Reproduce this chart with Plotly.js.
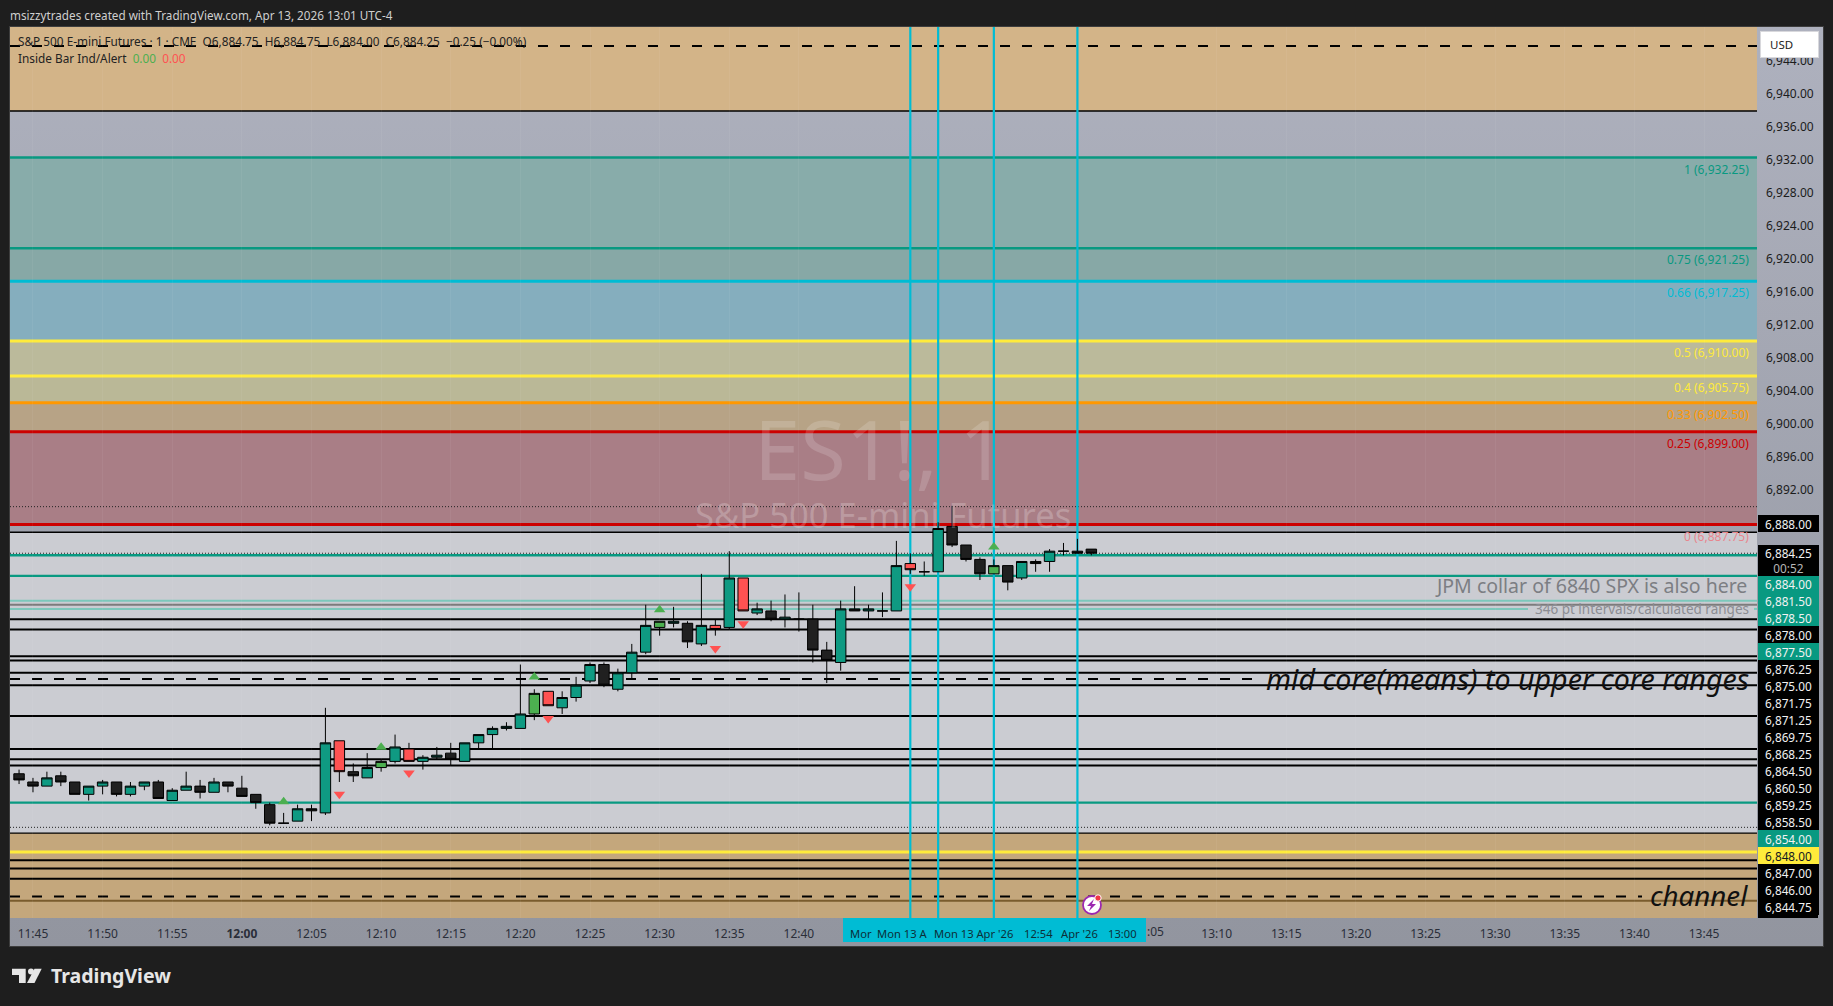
<!DOCTYPE html>
<html>
<head>
<meta charset="utf-8">
<script src="https://cdn.plot.ly/plotly-3.0.1.min.js"></script>
<style>
  html, body { margin: 0; padding: 0; background: #1e1e1e; }
  #frame {
    position: absolute; left: 9px; top: 26px; width: 1813px; height: 919px;
    border: 1px solid #3d3d3d;
    background: linear-gradient(#aeb1be, #92959f);
  }
  #plot { position: absolute; left: 0; top: 0; width: 1833px; height: 1006px; }
</style>
</head>
<body>
<div id="frame"></div>
<div id="plot"></div>
<script>
// candles
var candleTimes = [
  "11:44", "11:45", "11:46", "11:47", "11:48", "11:49", "11:50", "11:51", "11:52", "11:53",
  "11:54", "11:55", "11:56", "11:57", "11:58", "11:59", "12:00", "12:01", "12:02", "12:03",
  "12:04", "12:05", "12:06", "12:07", "12:08", "12:09", "12:10", "12:11", "12:12", "12:13",
  "12:14", "12:15", "12:16", "12:17", "12:18", "12:19", "12:20", "12:21", "12:22", "12:23",
  "12:24", "12:25", "12:26", "12:27", "12:28", "12:29", "12:30", "12:31", "12:32", "12:33",
  "12:34", "12:35", "12:36", "12:37", "12:38", "12:39", "12:40", "12:41", "12:42", "12:43",
  "12:44", "12:45", "12:46", "12:47", "12:48", "12:49", "12:50", "12:51", "12:52", "12:53",
  "12:54", "12:55", "12:56", "12:57", "12:58", "12:59", "13:00", "13:01"
];
var candleOpen = [
  6857.5, 6856.5, 6856, 6857.25, 6856.5, 6855, 6856, 6856.5, 6855, 6856,
  6856.5, 6854.25, 6855.5, 6856, 6855.25, 6856.5, 6855.75, 6855, 6853.75, 6851.5,
  6851.75, 6853.25, 6852.75, 6861.5, 6857.75, 6857, 6858.25, 6859, 6860.5, 6859,
  6859.5, 6860, 6859, 6861.25, 6862.25, 6863, 6863, 6864.75, 6867.5, 6865.5,
  6866.75, 6868.75, 6870.75, 6867.75, 6869.75, 6872.25, 6875.25, 6875.75, 6875.75, 6873.25,
  6875.5, 6875.25, 6881.25, 6877, 6877.25, 6876.25, 6876.25, 6876.25, 6872.5, 6871,
  6877.5, 6877.25, 6877.25, 6877.25, 6883, 6882, 6882, 6887.5, 6885.25, 6883.5,
  6881.75, 6882.75, 6881.25, 6883.25, 6883.25, 6884.5, 6884.5, 6884.75
];
var candleHigh = [
  6858, 6857, 6857.75, 6857.75, 6856.5, 6856, 6856.75, 6856.5, 6856.5, 6856.5,
  6856.75, 6855.75, 6857.75, 6856.75, 6857, 6856.5, 6857.25, 6855, 6854, 6852.75,
  6853.75, 6853.75, 6865.5, 6861.5, 6858.75, 6860, 6859.25, 6862.25, 6861.25, 6859.75,
  6860.75, 6861.25, 6861.25, 6862.25, 6863.25, 6863.75, 6870.75, 6867.75, 6867.5, 6867.5,
  6869.25, 6871, 6871, 6870.25, 6873.25, 6878, 6876, 6877.75, 6876, 6881.75,
  6876.25, 6884.5, 6881.25, 6878.25, 6878.5, 6879.25, 6879.5, 6878, 6873.5, 6878.5,
  6880.25, 6878, 6879.5, 6885.75, 6884.25, 6883.25, 6888, 6890, 6885.25, 6883.75,
  6883.5, 6882.75, 6883.25, 6883.5, 6884.75, 6885.5, 6886, 6884.75
];
var candleLow = [
  6856.25, 6855.25, 6856, 6856, 6855, 6854.25, 6855, 6854.75, 6854.75, 6855.5,
  6854.5, 6854.25, 6855.5, 6854.5, 6855.25, 6855.25, 6854.75, 6853.25, 6851.25, 6851.5,
  6851.75, 6851.75, 6852.5, 6856.5, 6856.5, 6857, 6857.75, 6858.75, 6859, 6858,
  6859.25, 6858.5, 6859, 6860.5, 6860.5, 6862.75, 6863, 6864, 6865.75, 6864.75,
  6866.25, 6868.5, 6868, 6867.5, 6869, 6872, 6874.25, 6875.25, 6872.75, 6873,
  6874.25, 6875, 6877.25, 6876.75, 6876, 6875.25, 6874.75, 6871, 6868.5, 6870,
  6877.25, 6876.25, 6876.5, 6877.25, 6881.75, 6881.5, 6882, 6885, 6883.25, 6881,
  6881.75, 6879.75, 6881, 6882, 6882, 6884, 6884.25, 6884
];
var candleClose = [
  6856.75, 6856, 6857, 6856.5, 6855, 6856, 6856.5, 6855, 6856, 6856.5,
  6854.5, 6855.5, 6856, 6855.25, 6856.5, 6856, 6854.75, 6854, 6851.5, 6851.5,
  6853.25, 6853, 6861.25, 6857.75, 6857.25, 6858.25, 6859, 6860.75, 6859, 6859.5,
  6859.75, 6859.25, 6861.25, 6862.25, 6863, 6863.25, 6864.75, 6867.25, 6865.75, 6866.75,
  6868.25, 6870.75, 6868.25, 6869.75, 6872.25, 6875.5, 6876, 6876, 6873.5, 6875.5,
  6875, 6881.25, 6877.25, 6877.5, 6876.25, 6876.5, 6876.25, 6872.5, 6871.25, 6877.5,
  6877.25, 6877.5, 6877.25, 6882.75, 6882.25, 6882, 6887.25, 6885.25, 6883.5, 6881.75,
  6882.75, 6880.75, 6883.25, 6883, 6884.5, 6884.5, 6884.25, 6884.25
];
// T teal, B black, R red inside bar, G green inside bar
var candleKind = [
  "B", "B", "T", "B", "B", "T", "T", "B", "T", "T",
  "B", "T", "T", "B", "T", "B", "B", "B", "B", "B",
  "T", "B", "T", "R", "B", "T", "G", "T", "R", "T",
  "T", "B", "T", "T", "T", "T", "T", "G", "R", "T",
  "T", "T", "B", "T", "T", "T", "G", "T", "B", "T",
  "R", "T", "R", "T", "B", "T", "B", "B", "B", "T",
  "B", "T", "B", "T", "R", "B", "T", "B", "B", "B",
  "G", "B", "T", "B", "T", "B", "B", "B"
];
var KIND_COLORS = { T: "#0f9a82", B: "#202020", R: "#ff5252", G: "#4caf50" };

// inside bar markers
var upTimes = ["12:03", "12:10", "12:21", "12:30", "12:54"];
var upPrices = [6854.1, 6860.7, 6869.25, 6877.4, 6885];
var downTimes = ["12:07", "12:12", "12:22", "12:34", "12:36", "12:48"];
var downPrices = [6855, 6857.6, 6864.2, 6872.7, 6875.7, 6880.2];

// price axis
var priceTicks = [6892, 6896, 6900, 6904, 6908, 6912, 6916, 6920, 6924, 6928, 6932, 6936, 6940, 6944];
var PRICE_TOP = 6948.09;
var PRICE_BOTTOM = 6840;

// time axis, the ticks under the cyan bar are left out
var timeTicks = [
  "11:45", "11:50", "11:55", "12:00", "12:05", "12:10", "12:15", "12:20", "12:25", "12:30",
  "12:35", "12:40", "13:10", "13:15", "13:20", "13:25", "13:30", "13:35", "13:40", "13:45"
];
var TIME_START = "11:43:21";
var TIME_END = "13:48:48";

// background zones
var zoneTops = [6948.09, 6932.25, 6921.25, 6917.25, 6910, 6905.75, 6902.5, 6899, 6886.8, 6850.3];
var zoneBottoms = [6937.9, 6921.25, 6917.25, 6910, 6905.75, 6902.5, 6899, 6887.75, 6850.3, 6840];
var zoneColors = ["#d3b488", "#88acaa", "#87a8a6", "#85aebe", "#bbba9b", "#bab897", "#b7a386", "#a97e86", "#cbccd2", "#c4a77c"];

// horizontal levels
var blackLevels = [6876.25, 6875, 6871.75, 6871.25, 6869.75, 6868.25, 6864.5, 6860.5, 6847, 6846, 6844.75, 6859.25, 6858.5];
var thinBlackLevels = [6937.9, 6886.8, 6850.3];
var dottedLevels = [6889.9, 6884.25, 6851];
var dashedLevels = [6945.8, 6869, 6842.6];
var dashedEndPx = [1757, 1262, 1642];
var tealLevels = [6932.25, 6921.25, 6884, 6881.5, 6854];
var paleTealLevels = [6878.5];
var paleTealBroken = 6877.5;
var greyLevel = 6878;
var brownLevel = 6842.1;
var fibLevels = [6917.25, 6910, 6905.75, 6902.5, 6899, 6887.75, 6848];
var fibColors = ["#00bcd4", "#ffeb3b", "#ffeb3b", "#ff9800", "#cc0000", "#cc0000", "#ffeb3b"];

// vertical lines
var cursorTimes = ["12:48", "12:50", "12:54", "13:00"];

// fib labels
var fibLabelPrices = [6932.25, 6921.25, 6917.25, 6910, 6905.75, 6902.5, 6899, 6887.75];
var fibLabelRatios = ["1", "0.75", "0.66", "0.5", "0.4", "0.33", "0.25", "0"];
var fibLabelColors = ["#089981", "#089981", "#00bcd4", "#ffeb3b", "#ffeb3b", "#ff9800", "#cc0000", "#e8868e"];

// stacked price labels on the axis, bottom to top
var stackPrices = [6844.75, 6846, 6847, 6848, 6854, 6858.5, 6859.25, 6860.5, 6864.5, 6868.25, 6869.75, 6871.25, 6871.75, 6875, 6876.25, 6877.5, 6878, 6878.5, 6881.5, 6884];
var stackColors = ["#000", "#000", "#000", "#ffeb3b", "#089981", "#000", "#000", "#000", "#000", "#000", "#000", "#000", "#000", "#000", "#000", "#089981", "#000", "#089981", "#089981", "#089981"];

// crosshair texts in the cyan time bar
var barLabels = ["Mor", "Mon 13 A", "Mon 13 Apr '26", "12:54", "Apr '26", "13:00"];
var barLabelX = [861, 902, 974, 1038, 1079, 1122];

var FONT = "'Noto Sans', 'Open Sans', sans-serif";
var PLOT_L = 10, PLOT_R = 1757, PLOT_T = 27, PLOT_B = 918;

function xp(px) { return (px - PLOT_L) / (PLOT_R - PLOT_L); }
function yp(py) { return 1 - (py - PLOT_T) / (PLOT_B - PLOT_T); }
function tm(t) { return "2026-04-13 " + t; }
function money(v) { return v.toLocaleString("en-US", { minimumFractionDigits: 2, maximumFractionDigits: 2 }); }

function hLine(price, color, width, dash) {
  return {
    type: "line", layer: "below", xref: "paper", yref: "y",
    x0: 0, x1: 1, y0: price, y1: price,
    line: { color: color, width: width, dash: dash || "solid" }
  };
}

function pxRect(x0, y0, x1, y1, color, layer) {
  return {
    type: "rect", layer: layer || "above", xref: "paper", yref: "paper",
    x0: xp(x0), x1: xp(x1), y0: yp(y0), y1: yp(y1),
    fillcolor: color, line: { width: 0 }
  };
}

function pxCircle(cx, cy, r, fill, stroke, strokeWidth) {
  var s = pxRect(cx - r, cy - r, cx + r, cy + r, fill);
  s.type = "circle";
  s.line = { color: stroke || fill, width: strokeWidth || 0 };
  return s;
}

function pxPath(points, color) {
  var d = points.map(function (p, i) {
    return (i ? "L" : "M") + xp(p[0]) + " " + yp(p[1]);
  }).join(" ") + " Z";
  return {
    type: "path", layer: "above", xref: "paper", yref: "paper", path: d,
    fillcolor: color, line: { width: 0 }
  };
}

function makeShapes() {
  var shapes = [];
  zoneTops.forEach(function (top, i) {
    shapes.push({
      type: "rect", layer: "below", xref: "paper", yref: "y",
      x0: 0, x1: 1, y0: zoneBottoms[i], y1: top,
      fillcolor: zoneColors[i], line: { width: 0 }
    });
  });
  blackLevels.forEach(function (p) { shapes.push(hLine(p, "#000", 2)); });
  thinBlackLevels.forEach(function (p) { shapes.push(hLine(p, "#000", 1.4)); });
  tealLevels.forEach(function (p) { shapes.push(hLine(p, "#089981", 2.4)); });
  paleTealLevels.forEach(function (p) { shapes.push(hLine(p, "#7cc8bb", 2)); });
  // this one is broken by the text sitting on it
  var left = hLine(paleTealBroken, "#7cc8bb", 2);
  left.x1 = xp(1528);
  var right = hLine(paleTealBroken, "#7cc8bb", 2);
  right.x0 = xp(1754);
  shapes.push(left, right);
  shapes.push(hLine(greyLevel, "#7c7c7c", 2));
  shapes.push(hLine(brownLevel, "#7a5c2e", 2));
  fibLevels.forEach(function (p, i) { shapes.push(hLine(p, fibColors[i], 3)); });
  dottedLevels.forEach(function (p) { shapes.push(hLine(p, "#222", 1, "1px,2px")); });
  dashedLevels.forEach(function (p, i) {
    var dashed = hLine(p, "#000", 2, "10px,12px");
    dashed.x1 = xp(dashedEndPx[i]);
    shapes.push(dashed);
  });
  cursorTimes.forEach(function (t) {
    shapes.push({
      type: "line", layer: "below", xref: "x", yref: "paper",
      x0: tm(t), x1: tm(t), y0: 0, y1: 1,
      line: { color: "#00bcd4", width: 2.2 }
    });
  });

  // cyan time bar, black foot of the label stack
  shapes.push(pxRect(843, 918, 1146, 942, "#00bcd4"));
  shapes.push(pxRect(1758, 895, 1818, 918, "#000"));

  // lightning badge
  shapes.push(pxCircle(1092, 905, 9, "#ffffff", "#9c27b0", 1.8));
  shapes.push(pxPath([[1094, 899], [1087, 906], [1091, 906], [1089, 911], [1096, 904], [1092, 904]], "#9c27b0"));
  shapes.push(pxCircle(1098, 898, 3.2, "#f23645", "#ffffff", 1));

  // TradingView mark
  shapes.push(pxPath([[12, 968.7], [25.7, 968.7], [25.7, 983], [19, 983], [19, 975], [12, 975]], "#e6e6e6"));
  shapes.push(pxCircle(31, 971.5, 3, "#e6e6e6"));
  shapes.push(pxPath([[34.5, 968.7], [41.7, 968.7], [34.5, 983], [27, 983]], "#e6e6e6"));
  return shapes;
}

function txt(px, py, text, color, size, anchor, extra) {
  var a = {
    xref: "paper", yref: "paper", x: xp(px), y: yp(py),
    xanchor: anchor || "left", yanchor: "middle",
    text: text, showarrow: false, align: anchor || "left",
    font: { family: FONT, size: size, color: color }
  };
  Object.keys(extra || {}).forEach(function (k) { a[k] = extra[k]; });
  return a;
}

function axisBox(py, text, bg, color, h) {
  return txt(1788.5, py, text, color, 11.8, "center", {
    bgcolor: bg, width: 61, height: h || 17, borderpad: 0, borderwidth: 0
  });
}

function makeAnnotations() {
  var notes = [];

  // header and legend
  notes.push(txt(8, 15, "msizzytrades created with TradingView.com, Apr 13, 2026 13:01 UTC-4", "#cfcfcf", 11.7));
  notes.push(txt(15.5, 41, "S&P 500 E-mini Futures · 1 · CME  O6,884.75  H6,884.75  L6,884.00  C6,884.25  −0.25 (−0.00%)", "#222", 11.8));
  notes.push(txt(15.5, 58, "Inside Bar Ind/Alert  <span style='color:#4caf50'>0.00</span>  <span style='color:#ff5252'>0.00</span>", "#222", 11.8));

  // watermark
  notes.push(txt(880, 447, "ES1!, 1", "rgba(255,255,255,0.16)", 83, "center"));
  notes.push(txt(883, 514, "S&amp;P 500 E-mini Futures", "rgba(255,255,255,0.22)", 34.6, "center"));

  // fib labels hang under their level
  fibLabelPrices.forEach(function (p, i) {
    notes.push({
      xref: "paper", yref: "y", x: xp(1751), y: p, yshift: -11.7,
      xanchor: "right", yanchor: "middle", showarrow: false,
      text: fibLabelRatios[i] + " (" + money(p) + ")",
      font: { family: FONT, size: 12, color: fibLabelColors[i] }
    });
  });

  // drawn texts
  notes.push(txt(1749, 585, "JPM collar of 6840 SPX is also here", "#7c7e83", 19.5, "right"));
  notes.push(txt(1751, 609, "346 pt intervals/calculated ranges", "#8b8d93", 13.5, "right"));
  notes.push(txt(1751, 678, "<i>mid core(means) to upper core ranges</i>", "#111", 28.6, "right"));
  notes.push(txt(1750, 895, "<i>channel</i>", "#111", 27.7, "right"));

  // price labels stacked up from the foot of the axis
  stackPrices.forEach(function (p, i) {
    var bg = stackColors[i];
    notes.push(axisBox(906.7 - 17 * i, money(p), bg, bg === "#ffeb3b" ? "#131722" : "#f2f2f2"));
  });
  notes.push(axisBox(523, money(6888), "#000", "#f2f2f2"));
  notes.push(axisBox(560.3, money(6884.25) + "<br><span style='color:#b8b8b8'>00:52</span>", "#000", "#f2f2f2", 31));

  notes.push(txt(1789.5, 44, "&nbsp;&nbsp;&nbsp;USD", "#222", 11.5, "center", {
    bgcolor: "#ffffff", bordercolor: "#d8d8dc", borderwidth: 1, borderpad: 0, width: 57, height: 25, align: "left"
  }));

  barLabels.forEach(function (label, i) {
    notes.push(txt(barLabelX[i], 933, label, "#0c2f38", 11.2, "center"));
  });
  notes.push(txt(1146, 932, ":05", "#2a2e39", 12, "left", { borderpad: 0 }));

  // TradingView word
  notes.push(txt(49, 976, "<b>TradingView</b>", "#e6e6e6", 19.5));
  return notes;
}

function candleTrace(kind) {
  var idx = [];
  candleKind.forEach(function (k, i) { if (k === kind) idx.push(i); });
  function pick(a) { return idx.map(function (i) { return a[i]; }); }
  var side = { line: { color: "#000", width: 1 }, fillcolor: KIND_COLORS[kind] };
  return {
    type: "candlestick",
    x: pick(candleTimes).map(tm),
    open: pick(candleOpen), high: pick(candleHigh), low: pick(candleLow), close: pick(candleClose),
    increasing: side, decreasing: side,
    whiskerwidth: 0, hoverinfo: "skip", showlegend: false
  };
}

function markerTrace(times, prices, symbol, color) {
  return {
    type: "scatter", mode: "markers", x: times.map(tm), y: prices,
    marker: { symbol: symbol, size: 10, color: color },
    hoverinfo: "skip", showlegend: false
  };
}

var traces = ["T", "B", "R", "G"].map(candleTrace);
traces.push(markerTrace(upTimes, upPrices, "triangle-up", "#4caf50"));
traces.push(markerTrace(downTimes, downPrices, "triangle-down", "#ff5252"));

var layout = {
  width: 1833,
  height: 1006,
  margin: { l: PLOT_L, r: 1833 - PLOT_R, t: PLOT_T, b: 1006 - PLOT_B, pad: 0 },
  paper_bgcolor: "rgba(0,0,0,0)",
  plot_bgcolor: "rgba(0,0,0,0)",
  showlegend: false,
  boxmode: "overlay",
  boxgap: 0.25,
  boxgroupgap: 0,
  font: { family: FONT, color: "#1f1f1f" },
  xaxis: {
    type: "date",
    range: [tm(TIME_START), tm(TIME_END)],
    rangeslider: { visible: false },
    tickmode: "array",
    tickvals: timeTicks.map(tm),
    ticktext: timeTicks.map(function (t) { return t === "12:00" ? "<b>" + t + "</b>" : t; }),
    tickfont: { family: FONT, size: 12, color: "#2a2e39" },
    ticks: "",
    ticklabelstandoff: 7,
    showgrid: true,
    gridcolor: "rgba(255,255,255,0.05)",
    zeroline: false,
    showline: false,
    automargin: false
  },
  yaxis: {
    side: "right",
    range: [PRICE_BOTTOM, PRICE_TOP],
    tickmode: "array",
    tickvals: priceTicks,
    tickformat: ",.2f",
    tickfont: { family: FONT, size: 12, color: "#1c1c1c" },
    ticks: "",
    ticklabelstandoff: 8,
    showgrid: false,
    zeroline: false,
    showline: false,
    automargin: false
  },
  shapes: makeShapes(),
  annotations: makeAnnotations()
};

Plotly.newPlot("plot", traces, layout, { staticPlot: true, displayModeBar: false });
</script>
</body>
</html>
